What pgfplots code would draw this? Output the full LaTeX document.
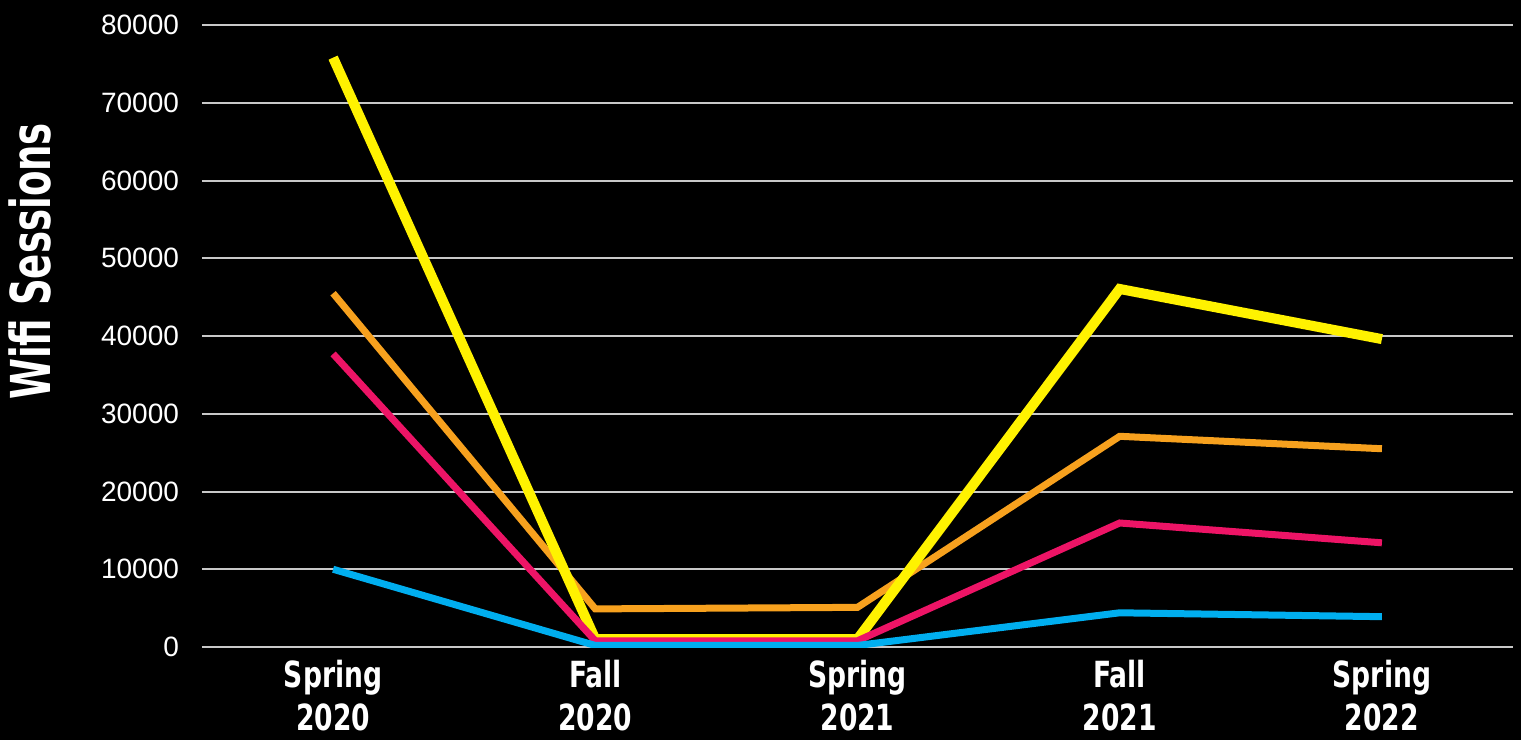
\documentclass[border=0pt]{standalone}
\usepackage{pgfplots}
\pgfplotsset{compat=1.18}
\usepackage{fontspec}
\setmainfont{Liberation Sans}
\newfontfamily\agency[FakeStretch=0.82]{DejaVu Sans Condensed Bold}
\newfontfamily\agencyy[FakeStretch=0.75]{DejaVu Sans Condensed Bold}
\definecolor{cyel}{HTML}{FFF200}
\definecolor{corg}{HTML}{F7A11E}
\definecolor{cpnk}{HTML}{ED1466}
\definecolor{cblu}{HTML}{00AEEF}
\definecolor{cgrid}{RGB}{200,200,200}
\begin{document}
\begin{tikzpicture}[x=1pt,y=1pt]
\fill[black] (-101,-46.5) rectangle (659.5,323.5);
\begin{axis}[
  at={(0,0)}, anchor=south west,
  scale only axis, width=655.5pt, height=311pt,
  xmin=-0.5, xmax=4.5, ymin=0, ymax=80000,
  axis line style={draw=none},
  major tick length=0pt,
  ymajorgrids, grid style={draw=cgrid, line width=1pt},
  ytick={0,10000,...,80000},
  scaled y ticks=false,
  /pgf/number format/assume math mode=true,
  y tick label style={/pgf/number format/1000 sep={}, font=\fontsize{14}{14}\selectfont, text=white, xshift=-8pt},
  xtick={0,1,2,3,4},
  xticklabels={{Spring\\2020},{Fall\\2020},{Spring\\2021},{Fall\\2021},{Spring\\2022}},
  xticklabel style={font=\agency\fontsize{18}{21.5}\selectfont, text=white, align=center, yshift=-3pt},
  ylabel={Wifi Sessions},
  ylabel style={at={(axis description cs:-0.131,0.62)}, anchor=center, font=\agencyy\fontsize{27.5}{27.5}\selectfont, text=white},
  line join=miter,
]
\addplot[corg, line width=3.5pt] coordinates {(0,45500) (1,4900) (2,5100) (3,27100) (4,25500)};
\addplot[cyel, line width=5pt] coordinates {(0,75800) (1,1000) (2,1000) (3,46050) (4,39600)};
\addplot[cpnk, line width=3.5pt] coordinates {(0,37700) (1,800) (2,800) (3,15950) (4,13400)};
\addplot[cblu, line width=3.5pt] coordinates {(0,10000) (1,200) (2,200) (3,4400) (4,3900)};
\end{axis}
\pgfresetboundingbox
\path[use as bounding box] (-101,-46.5) rectangle (659.5,323.5);
\end{tikzpicture}
\end{document}
